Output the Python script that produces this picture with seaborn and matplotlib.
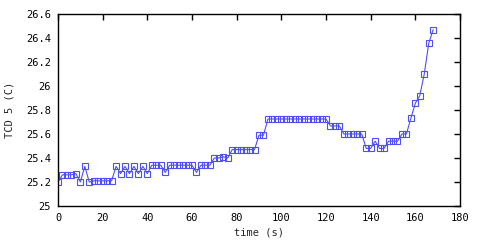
import matplotlib
matplotlib.use("Agg")
import matplotlib.pyplot as plt
import seaborn as sns
import pandas as pd
import numpy as np

time_s = [0, 2, 4, 6, 8, 10, 12, 14, 16, 18, 20, 22, 24, 26, 28, 30, 32, 34, 36, 38,
          40, 42, 44, 46, 48, 50, 52, 54, 56, 58, 60, 62, 64, 66, 68, 70, 72, 74, 76, 78,
          80, 82, 84, 86, 88, 90, 92, 94, 96, 98, 100, 102, 104, 106, 108, 110, 112, 114,
          116, 118, 120, 122, 124, 126, 128, 130, 132, 134, 136, 138, 140, 142, 144, 146,
          148, 150, 152, 154, 156, 158, 160, 162, 164, 166, 168]
tcd5 = [25.20, 25.26, 25.26, 25.26, 25.27, 25.20, 25.33, 25.20, 25.21, 25.21, 25.21, 25.21,
        25.21, 25.33, 25.27, 25.33, 25.27, 25.33, 25.27, 25.33, 25.27, 25.34, 25.34, 25.34,
        25.28, 25.34, 25.34, 25.34, 25.34, 25.34, 25.34, 25.28, 25.34, 25.34, 25.34, 25.40,
        25.40, 25.41, 25.40, 25.47, 25.47, 25.47, 25.47, 25.47, 25.47, 25.59, 25.59, 25.725,
        25.725, 25.725, 25.725, 25.725, 25.725, 25.725, 25.725, 25.725, 25.725, 25.725,
        25.725, 25.725, 25.725, 25.667, 25.667, 25.667, 25.60, 25.60, 25.60, 25.60, 25.60,
        25.48, 25.48, 25.54, 25.48, 25.48, 25.54, 25.54, 25.54, 25.60, 25.60, 25.73, 25.856,
        25.92, 26.10, 26.355, 26.47]
x_ticks = [0, 20, 40, 60, 80, 100, 120, 140, 160, 180]
y_ticks = [25, 25.2, 25.4, 25.6, 25.8, 26, 26.2, 26.4, 26.6]
x_labels = ["0", "20", "40", "60", "80", "100", "120", "140", "160", "180"]
y_labels = ["25", "25.2", "25.4", "25.6", "25.8", "26", "26.2", "26.4", "26.6"]

df = pd.DataFrame({"time": time_s, "tcd": tcd5})

sns.set_style("white")
plt.rcParams['font.family'] = ['DejaVu Sans Mono', 'DejaVu Sans']

fig = plt.figure(figsize=(4.8, 2.4), dpi=100)
ax = fig.add_axes([58/480, 34/240, 402/480, 192/240])
sns.lineplot(data=df, x="time", y="tcd", ax=ax, color="#4f4ff5", linewidth=0.8,
             marker="s", markersize=3.7, markerfacecolor="none",
             markeredgecolor="#4f4ff5", markeredgewidth=0.8)

ax.set_xlim(0, 180)
ax.set_ylim(25, 26.6)
ax.set_xticks(x_ticks)
ax.set_xticklabels(x_labels)
ax.set_yticks(y_ticks)
ax.set_yticklabels(y_labels)
ax.tick_params(direction="in", length=4, width=1, top=True, right=True,
               labelsize=7.5, colors="black", pad=5)
for s in ax.spines.values():
    s.set_color("black")
    s.set_linewidth(1)
    s.set_visible(True)
ax.set_xlabel("time (s)", fontsize=7.5, labelpad=3)
ax.set_ylabel("TCD 5 (C)", fontsize=7.5, labelpad=8)
ax.grid(False)

fig.savefig("out.png", dpi=100)
